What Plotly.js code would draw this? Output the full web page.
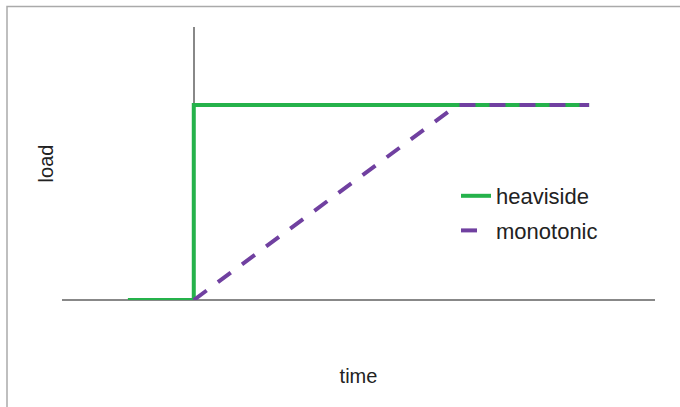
<!DOCTYPE html>
<html>
<head>
<meta charset="utf-8">
<script src="https://cdn.plot.ly/plotly-3.0.1.min.js"></script>
<style>html,body{margin:0;padding:0;background:#fff;}#chart{width:680px;height:407px;}</style>
</head>
<body>
<div id="chart"></div>
<script>
// Data (time units, load normalized)
const heavisideTime = [-1, 0, 0, 6];
const heavisideLoad = [0, 0, 1, 1];
const monotonicTime = [0, 4, 6];
const monotonicLoad = [0, 1, 1];
const seriesNames = ["heaviside", "monotonic"];

const traces = [
  {x: heavisideTime, y: heavisideLoad, mode: "lines", name: seriesNames[0], legendgroup: "a",
   line: {color: "#25b24b", width: 4}},
  {x: monotonicTime, y: monotonicLoad, mode: "lines", name: seriesNames[1], legendgroup: "b",
   line: {color: "#7040a0", width: 4, dash: "16px,14px"}}
];

const layout = {
  width: 680, height: 407,
  margin: {l: 62, r: 25, t: 27, b: 107},
  paper_bgcolor: "#fff", plot_bgcolor: "#fff",
  font: {family: "Liberation Sans, Arial, sans-serif", color: "#222", size: 20},
  xaxis: {range: [-2, 7], showgrid: false, showticklabels: false, ticks: "", showline: false,
          zeroline: true, zerolinecolor: "#888", zerolinewidth: 1.5,
          title: {text: "time", font: {size: 20}, standoff: 68}},
  yaxis: {range: [0, 1.4], showgrid: false, showticklabels: false, ticks: "", showline: false,
          zeroline: true, zerolinecolor: "#888", zerolinewidth: 1.5,
          title: {text: "load", font: {size: 20}, standoff: 2}},
  showlegend: true,
  legend: {x: (456 - 62) / 593, y: (300 - 175) / 273, xanchor: "left", yanchor: "top",
           bgcolor: "rgba(0,0,0,0)", font: {size: 22}, tracegroupgap: 3, traceorder: "grouped"},
  shapes: [
    {type: "rect", xref: "paper", yref: "paper",
     x0: (7 - 62) / 593, x1: (700 - 62) / 593, y0: (300 - 430) / 273, y1: (300 - 6.5) / 273,
     line: {color: "#aaa", width: 1.5}, fillcolor: "rgba(0,0,0,0)", layer: "below"}
  ]
};

Plotly.newPlot("chart", traces, layout, {staticPlot: true, displayModeBar: false});
</script>
</body>
</html>
